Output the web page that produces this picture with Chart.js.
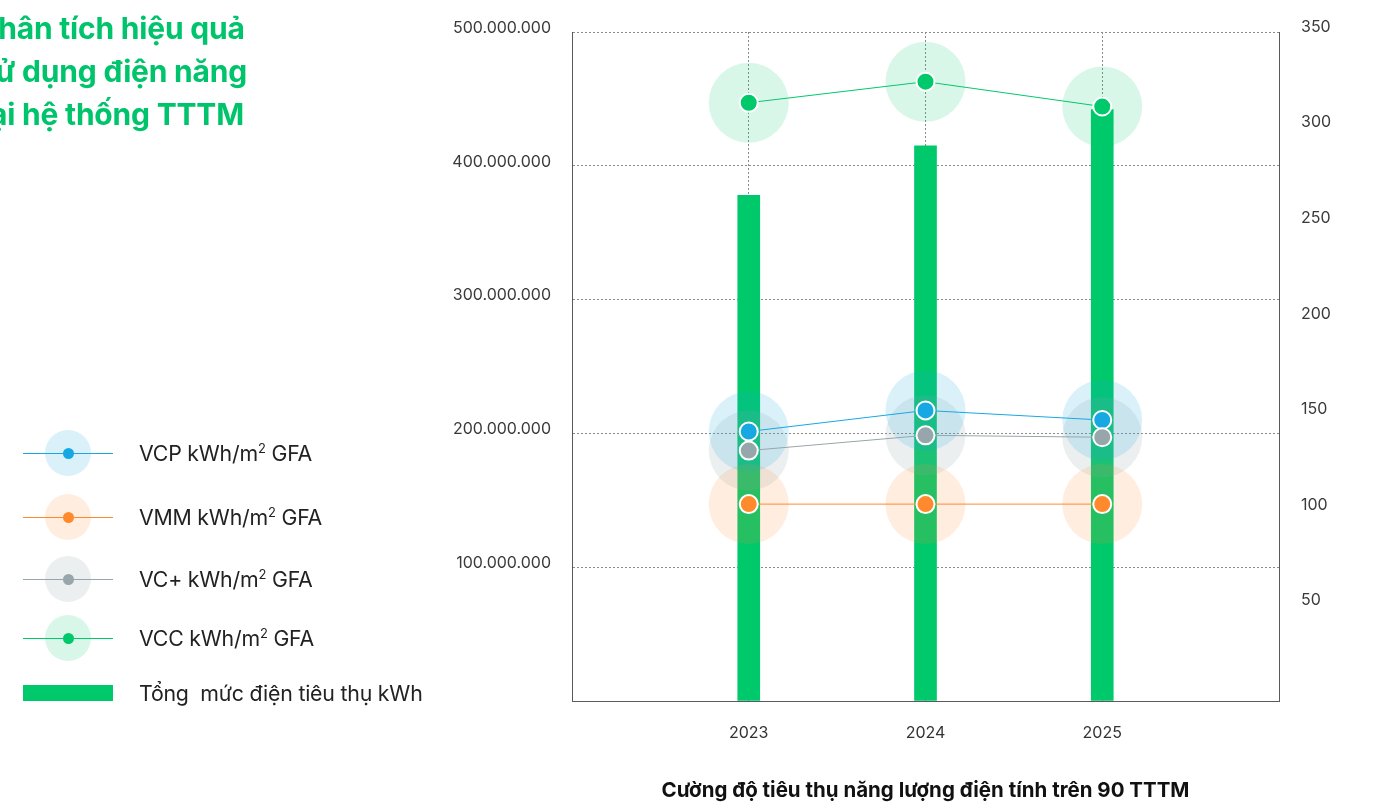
<!DOCTYPE html>
<html lang="vi">
<head>
<meta charset="utf-8">
<title>Cường độ tiêu thụ năng lượng điện</title>
<script src="https://cdn.jsdelivr.net/npm/chart.js@4.4.1/dist/chart.umd.min.js"></script>
<style>
    html, body { margin: 0; padding: 0; background: #fff; overflow: hidden; }
    body { width: 1376px; height: 802px; position: relative; font-family: Inter, "Noto Sans", sans-serif; }
    #bieuDo { position: absolute; left: 0; top: 0; }

    /* tieu de xanh, bi cat mep trai */
    .tieu-de {
        position: absolute; left: -21px; top: 7px;
        color: #00c46b; font-weight: 700; font-size: 30px; line-height: 43px;
        white-space: nowrap; z-index: 2; letter-spacing: -0.2px;
    }

    /* chu giai tu ve */
    .muc { position: absolute; left: 0; width: 440px; height: 50px; z-index: 2; }
    .muc .duong { position: absolute; left: 23px; width: 90px; height: 1px; top: 25px; }
    .muc .quang { position: absolute; left: 45px; top: 2px; width: 46px; height: 46px; border-radius: 50%; }
    .muc .cham { position: absolute; left: 63px; top: 20px; width: 11px; height: 11px; border-radius: 50%; }
    .muc .cot { position: absolute; left: 23px; top: 17px; width: 90px; height: 16px; }
    .muc .chu {
        position: absolute; left: 139px; top: 0; line-height: 50px;
        font-size: 21.3px; color: #222; white-space: pre; letter-spacing: -0.2px;
    }
    .muc .chu sup { font-size: 13px; line-height: 0; }
</style>
</head>
<body>

<div class="tieu-de">Phân tích hiệu quả<br>sử dụng điện năng<br>tại hệ thống TTTM</div>
<div id="chuGiai"></div>
<canvas id="bieuDo" width="1376" height="802"></canvas>

<script>
// ===== DU LIEU =====
const categories = ['2023', '2024', '2025'];
const tongDienKwh = [378000000, 415000000, 442000000];   // cot, truc trai
const vcp = [141, 152, 147];                              // kWh/m2 GFA, truc phai
const vmm = [103, 103, 103];
const vcPlus = [131, 139, 138];
const vcc = [313, 324, 311];

const ticksTrai = [0, 100000000, 200000000, 300000000, 400000000, 500000000];
const ticksPhai = [0, 50, 100, 150, 200, 250, 300, 350];

const tenChuoi = ['VCP', 'VMM', 'VC+', 'VCC'];
const duLieuChuoi = [vcp, vmm, vcPlus, vcc];
const mauChuoi = ['#17a8e3', '#ff8a2e', '#97a6aa', '#00c96b'];
const mauQuang = ['rgba(23,168,227,0.16)', 'rgba(255,138,46,0.15)', 'rgba(150,165,170,0.18)', 'rgba(0,201,107,0.15)'];
const tenCot = 'Tổng  mức điện tiêu thụ kWh';
const mauCot = '#00c96b';
const tieuDeTrucX = 'Cường độ tiêu thụ năng lượng điện tính trên 90 TTTM';

// them nhan rong 2 dau de cac nam nam o 1/4, 2/4, 3/4 chieu rong
const nhan = ['', ...categories, ''];
const dem = arr => [null, ...arr, null];

// dinh dang 500.000.000
function chamNghin(v) {
    return String(v).replace(/\B(?=(\d{3})+(?!\d))/g, '.');
}

// ===== CHU GIAI =====
const chuGiai = document.getElementById('chuGiai');
const viTriY = [428, 492, 554, 613, 668];

tenChuoi.forEach((ten, i) => {
    const muc = document.createElement('div');
    muc.className = 'muc';
    muc.style.top = viTriY[i] + 'px';
    muc.innerHTML =
        `<div class="quang" style="background:${mauQuang[i]}"></div>` +
        `<div class="duong" style="background:${mauChuoi[i]}"></div>` +
        `<div class="cham" style="background:${mauChuoi[i]}"></div>` +
        `<div class="chu">${ten} kWh/m<sup>2</sup> GFA</div>`;
    chuGiai.appendChild(muc);
});

const mucCot = document.createElement('div');
mucCot.className = 'muc';
mucCot.style.top = viTriY[4] + 'px';
mucCot.innerHTML = `<div class="cot" style="background:${mauCot}"></div><div class="chu">${tenCot}</div>`;
chuGiai.appendChild(mucCot);

// ===== BIEU DO =====
const datasets = [{
    type: 'bar',
    label: tenCot,
    data: dem(tongDienKwh),
    backgroundColor: mauCot,
    barThickness: 22,
    yAxisID: 'y',
    order: 10
}];

// vong sang nhat phia sau moi diem
tenChuoi.forEach((ten, i) => {
    datasets.push({
        type: 'line',
        label: ten + ' halo',
        data: dem(duLieuChuoi[i]),
        showLine: false,
        pointRadius: 40,
        pointHoverRadius: 40,
        pointBorderWidth: 0,
        pointBackgroundColor: mauQuang[i],
        yAxisID: 'y1',
        order: 5,
        clip: false
    });
});

// duong + diem chinh
tenChuoi.forEach((ten, i) => {
    datasets.push({
        type: 'line',
        label: ten + ' kWh/m2 GFA',
        data: dem(duLieuChuoi[i]),
        borderColor: mauChuoi[i],
        borderWidth: 1,
        tension: 0,
        pointRadius: 9,
        pointHoverRadius: 9,
        pointBackgroundColor: mauChuoi[i],
        pointBorderColor: '#fff',
        pointBorderWidth: 2,
        yAxisID: 'y1',
        order: 1 + (3 - i) * 0.1,
        clip: false
    });
});

const luoi = '#8a8a8a';
const vien = '#5a5a5a';
const trongSuot = 'rgba(0,0,0,0)';

new Chart(document.getElementById('bieuDo'), {
    data: { labels: nhan, datasets: datasets },
    options: {
        responsive: false,
        animation: false,
        events: [],
        // tat autoPadding: vong sang ban kinh 40 khong duoc day vung ve
        layout: { autoPadding: false, padding: { top: 32, left: 0, right: 0, bottom: 0 } },
        plugins: { legend: { display: false }, tooltip: { enabled: false } },
        scales: {
            x: {
                type: 'category',
                offset: false,
                grid: {
                    offset: false,
                    drawTicks: false,
                    color: ctx => (ctx.index === 0 || ctx.index === nhan.length - 1) ? trongSuot : luoi
                },
                border: { display: true, color: vien, width: 1, dash: [2, 2] },
                ticks: {
                    padding: 23,
                    color: '#333',
                    font: { family: 'Inter', size: 16 },
                    maxRotation: 0,
                    autoSkip: false
                },
                title: {
                    display: true,
                    text: tieuDeTrucX,
                    color: '#111',
                    font: { family: 'Inter', size: 20.5, weight: 'bold' },
                    padding: { top: 0, bottom: -1 }
                },
                afterFit: scale => { scale.height = 101; }
            },
            y: {
                position: 'left',
                min: 0,
                max: 500000000,
                afterBuildTicks: scale => { scale.ticks = ticksTrai.map(v => ({ value: v })); },
                // vach tick trong suot thay cho padding
                grid: { drawTicks: true, tickLength: 21, tickColor: trongSuot, color: luoi },
                border: { display: true, color: vien, width: 1, dash: [2, 2] },
                ticks: {
                    padding: 0,
                    labelOffset: -4,
                    color: '#3a3a3a',
                    font: { family: 'Inter', size: 16 },
                    callback: v => v === 0 ? '' : chamNghin(v)
                },
                afterFit: scale => { scale.width = 572; }
            },
            y1: {
                position: 'right',
                min: 0,
                max: 350,
                afterBuildTicks: scale => { scale.ticks = ticksPhai.map(v => ({ value: v })); },
                grid: { drawOnChartArea: false, drawTicks: true, tickLength: 22, tickColor: trongSuot },
                border: { display: true, color: vien, width: 1 },
                ticks: {
                    padding: 0,
                    labelOffset: -5,
                    color: '#3a3a3a',
                    font: { family: 'Inter', size: 16 },
                    callback: v => v === 0 ? '' : String(v)
                },
                afterFit: scale => { scale.width = 97; }
            }
        }
    }
});
</script>
</body>
</html>
